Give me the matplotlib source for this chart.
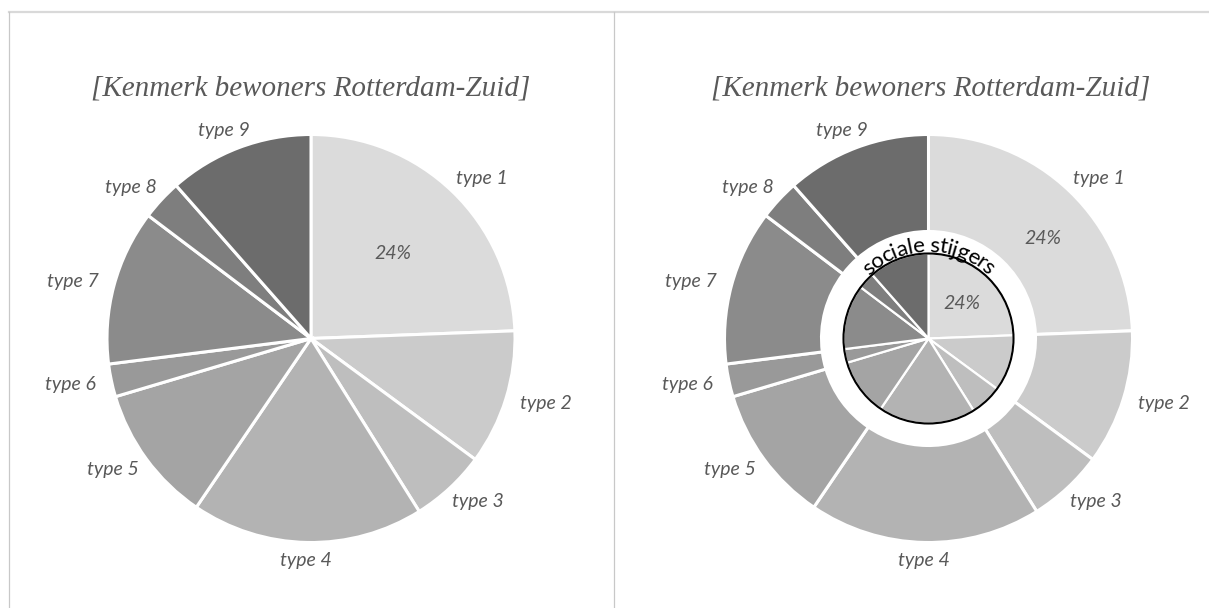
import numpy as np
import matplotlib
matplotlib.use("Agg")
import matplotlib.pyplot as plt
from matplotlib.patches import Circle
from matplotlib.lines import Line2D
from matplotlib.font_manager import FontProperties

# ---- data ----
categories = ["type 1", "type 2", "type 3", "type 4", "type 5",
              "type 6", "type 7", "type 8", "type 9"]
shares = [24.4, 10.7, 6.0, 18.4, 10.9, 2.6, 12.3, 3.2, 11.5]
colors = ["#dbdbdb", "#cbcbcb", "#bebebe", "#b3b3b3", "#a4a4a4",
          "#999999", "#8b8b8b", "#7e7e7e", "#6c6c6c"]
title = "[Kenmerk bewoners Rotterdam-Zuid]"
inner_label = "sociale stijgers"

W_PX, H_PX = 1209, 608
DPI = 100
fig = plt.figure(figsize=(W_PX / DPI, H_PX / DPI), dpi=DPI)
fig.patch.set_facecolor("white")

R_PX = 204.0      # pixels per data unit (pie radius)
L = 1.4           # half extent of axes in data units
TXT = "#595959"
label_fp = dict(family="Lato", style="italic", size=14, color=TXT)

def make_axes(cx, cy_top):
    side = 2 * L * R_PX
    cy = H_PX - cy_top
    return fig.add_axes([(cx - side / 2) / W_PX, (cy - side / 2) / H_PX,
                         side / W_PX, side / H_PX])

def fix_axes(ax):
    ax.set_xlim(-L, L)
    ax.set_ylim(-L, L)
    ax.set_aspect("equal")
    ax.axis("off")

def mid_angles(vals):
    tot = float(sum(vals))
    cum = np.cumsum([0] + list(vals)) / tot
    starts = 90 - 360 * cum[:-1]
    ends = 90 - 360 * cum[1:]
    return (starts + ends) / 2

def add_labels(ax, vals):
    mids = mid_angles(vals)
    base = 1 + 8 / R_PX
    hw, hh = 34 / R_PX, 10 / R_PX
    for lab, th in zip(categories, mids):
        t = np.deg2rad(th)
        x = (base + hw) * np.cos(t)
        y = (base + hh) * np.sin(t)
        ax.text(x, y, lab, ha="center", va="center", **label_fp)

mids = mid_angles(shares)
t0 = np.deg2rad(mids[0])

# ---------- left: plain pie ----------
axL = make_axes(311, 338.5)
axL.pie(shares, colors=colors, startangle=90, counterclock=False, radius=1,
        wedgeprops=dict(edgecolor="white", linewidth=2.2))
fix_axes(axL)
add_labels(axL, shares)
axL.text(0.58 * np.cos(t0), 0.58 * np.sin(t0),
         f"{round(shares[0]):d}%", ha="center", va="center", **label_fp)

# ---------- right: donut + inner pie ----------
axR = make_axes(928.5, 338.5)
r_hole = 107 / R_PX
r_inner = 85 / R_PX
axR.pie(shares, colors=colors, startangle=90, counterclock=False, radius=1,
        wedgeprops=dict(width=1 - r_hole, edgecolor="white", linewidth=2.2))
axR.pie(shares, colors=colors, startangle=90, counterclock=False,
        radius=r_inner, wedgeprops=dict(edgecolor="white", linewidth=1.6))
fix_axes(axR)
axR.add_patch(Circle((0, 0), r_inner, fill=False, ec="black", lw=1.5,
                     zorder=5))
add_labels(axR, shares)
rm = 0.745
axR.text(rm * np.cos(t0 - 0.09), rm * np.sin(t0 - 0.09),
         f"{round(shares[0]):d}%", ha="center", va="center", **label_fp)
axR.text(0.57 * r_inner * np.cos(t0), 0.57 * r_inner * np.sin(t0),
         f"{round(shares[0]):d}%", ha="center", va="center", **label_fp)

# curved text along the inner circle
fp = FontProperties(family="Lato", size=16)
renderer = fig.canvas.get_renderer()
def tw(s):
    if not s:
        return 0.0
    return renderer.get_text_width_height_descent(s, fp, ismath=False)[0]
total = tw(inner_label)
r_arc_px = 94.0
r_base = 86.5 / R_PX
for i, ch in enumerate(inner_label):
    c = (tw(inner_label[:i]) + tw(inner_label[:i + 1])) / 2
    ang = np.pi / 2 + (total / 2 - c) / r_arc_px
    x, y = r_base * np.cos(ang), r_base * np.sin(ang)
    axR.text(x, y, ch, fontproperties=fp, color="black", ha="center",
             va="baseline", rotation=np.rad2deg(ang) - 90,
             rotation_mode="anchor", zorder=6)

# titles
for cx in (311, 931):
    fig.text(cx / W_PX, 1 - 88 / H_PX, title, ha="center", va="center",
             family="Liberation Serif", style="italic", size=21, color=TXT)

# panel borders
def fx(p): return p / W_PX
def fy(p): return 1 - p / H_PX
fig.add_artist(Line2D([fx(9), 1], [fy(12), fy(12)], color="#d9d9d9",
                      lw=1.6, transform=fig.transFigure))
fig.add_artist(Line2D([fx(9), fx(9)], [fy(12), 0], color="#c8c8c8",
                      lw=0.9, transform=fig.transFigure))
fig.add_artist(Line2D([fx(613.5), fx(613.5)], [fy(12), 0], color="#c8c8c8",
                      lw=0.9, transform=fig.transFigure))

fig.savefig("out.png", dpi=DPI, facecolor="white")
